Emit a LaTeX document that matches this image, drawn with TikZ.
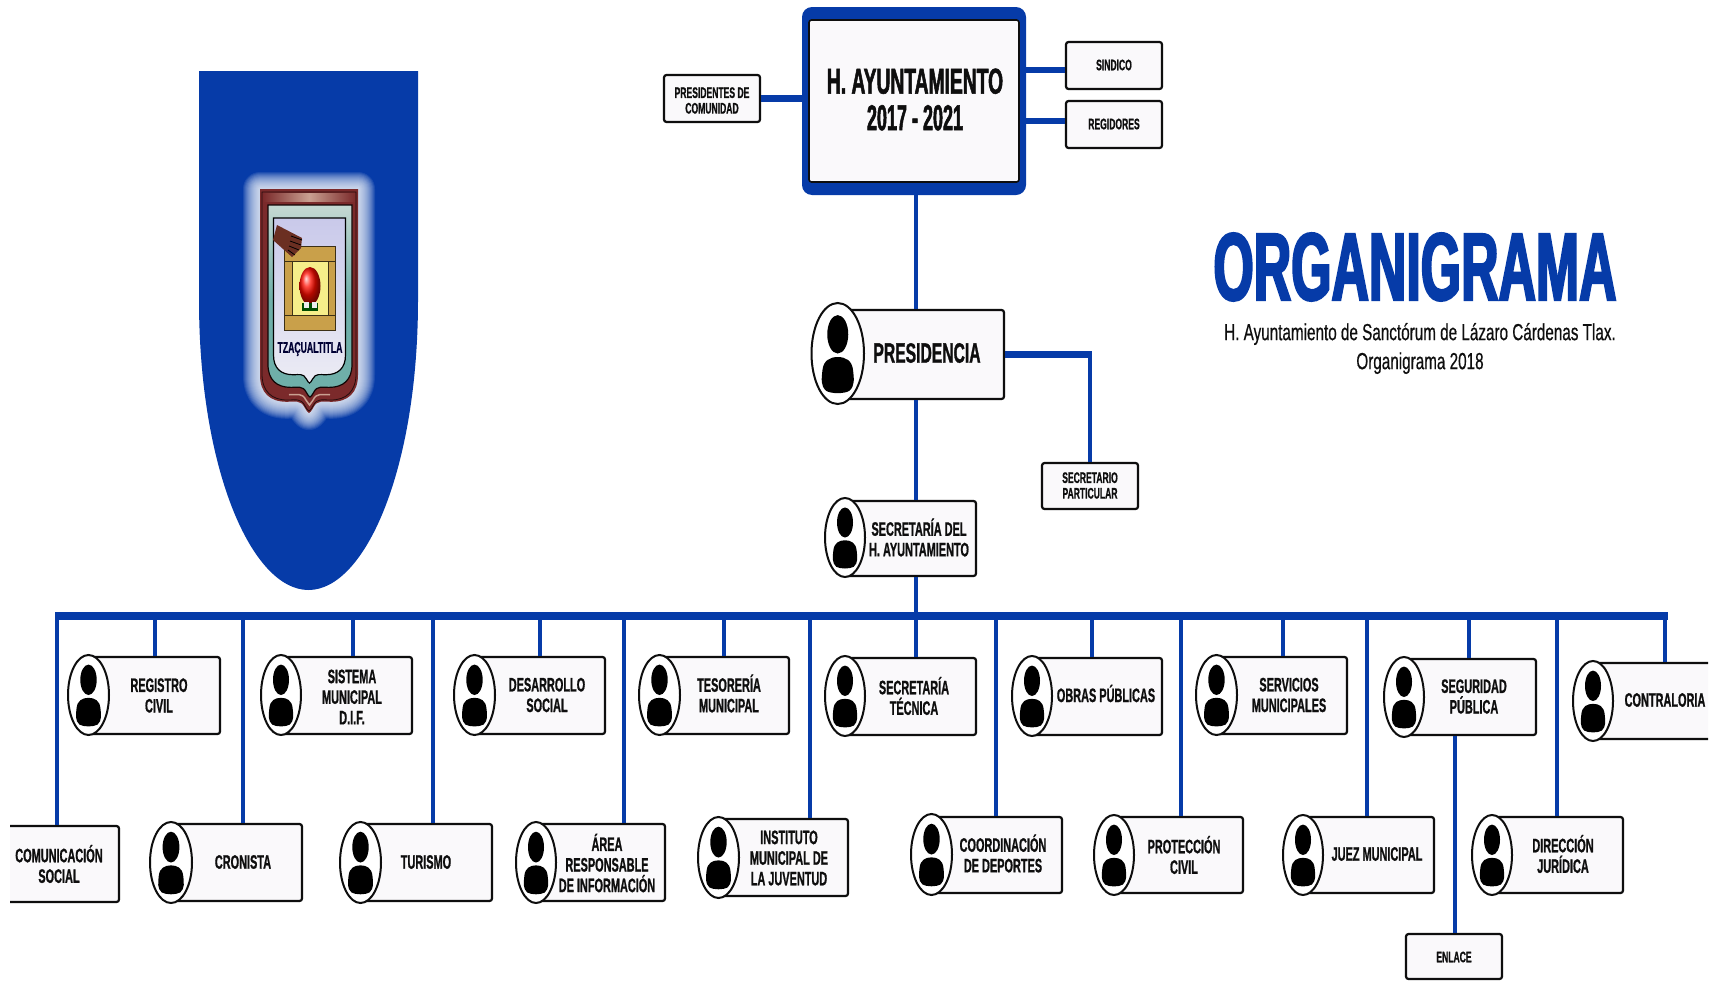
\documentclass[tikz,border=0pt]{standalone}
\usepackage{fontspec}
\setmainfont{Liberation Sans}
\newfontfamily\nar[FakeStretch=0.56,FakeBold=0.8]{Liberation Sans}
\newfontfamily\narh[FakeStretch=0.535,FakeBold=1.4]{Liberation Sans}
\newfontfamily\narn[FakeStretch=0.5,FakeBold=1.4]{Liberation Sans}
\newfontfamily\narp[FakeStretch=0.56,FakeBold=1.0]{Liberation Sans}
\newfontfamily\titf[FakeStretch=0.54,FakeBold=2.2]{Liberation Sans}
\newfontfamily\subt[FakeStretch=0.655,FakeBold=0.5]{Liberation Sans}
\usetikzlibrary{shapes.geometric}
\definecolor{azul}{HTML}{063BA8}
\definecolor{caja}{HTML}{FAF9FB}
\definecolor{ink}{HTML}{0E0E0E}
\definecolor{granate}{HTML}{7B2A2B}
\definecolor{rosado}{HTML}{C9A091}
\definecolor{verdeazul}{HTML}{6FAFA9}
\definecolor{verdeclaro}{HTML}{C5D8D2}
\definecolor{lila}{HTML}{C9C9EA}
\definecolor{lilaclaro}{HTML}{ECECF4}
\definecolor{oro}{HTML}{C9A04A}
\definecolor{amarillo}{HTML}{F6EE8A}
\definecolor{mano}{HTML}{6B2F22}
\tikzset{
  link/.style={draw=azul,line width=4.5pt},
  thicklink/.style={draw=azul,line width=6.5pt},
  cajon/.style={rectangle,draw=ink,line width=2.2pt,fill=caja,rounded corners=2.5pt,inner sep=0pt},
  ovalo/.style={ellipse,draw=ink,line width=2pt,fill=white,inner sep=0pt},
  lbl/.style={align=center,text=ink,inner sep=0pt,font=\nar\bfseries\fontsize{19.5}{20.6}\selectfont},
  lblsm/.style={align=center,text=ink,inner sep=0pt,font=\nar\bfseries\fontsize{15.3}{15.6}\selectfont}
}
% plain box: name, x1, x2, y1, y2
\newcommand{\caja}[5]{%
  \pgfmathsetmacro{\cw}{#3-#2}\pgfmathsetmacro{\ch}{#5-#4}%
  \pgfmathsetmacro{\cx}{(#2+#3)/2}\pgfmathsetmacro{\cy}{(#4+#5)/2}%
  \node[cajon,minimum width=\cw pt,minimum height=\ch pt] (#1) at (\cx,\cy) {};}
% portrait box: name, ellipse x1, x2, y1, y2, box right, box y1, y2
\newcommand{\retrato}[8]{%
  \pgfmathsetmacro{\ew}{#3-#2}\pgfmathsetmacro{\eh}{#5-#4}%
  \pgfmathsetmacro{\ex}{(#2+#3)/2}\pgfmathsetmacro{\ey}{(#4+#5)/2}%
  \caja{#1}{\ex}{#6}{#7}{#8}%
  \node[ovalo,minimum width=\ew pt,minimum height=\eh pt] (#1-o) at (\ex,\ey) {};%
  \begin{scope}[shift={(#1-o.center)},x=\ew pt,y=-\eh pt]
    \fill[black] (0,-.19) ellipse [x radius=.2,y radius=.19];
    \fill[black] (0,.035) .. controls (.15,.035) and (.27,.07) .. (.29,.16)
      .. controls (.31,.25) and (.33,.32) .. (.22,.37)
      .. controls (.12,.4) and (-.12,.4) .. (-.22,.37)
      .. controls (-.33,.32) and (-.31,.25) .. (-.29,.16)
      .. controls (-.27,.07) and (-.15,.035) .. (0,.035) -- cycle;
  \end{scope}}
\newcommand{\tap}[2]{\draw[link] (#2,0 |- bus) -- (#2,0 |- #1.north);}
\newcommand{\escudo}{(-1,0) -- (1,0) -- (1,.83) .. controls (1,.91) and (.8,.95) .. (.45,.95)
  .. controls (.3,.95) and (.17,.94) .. (.09,.975) .. controls (.05,.99) and (.02,1) .. (0,1) .. controls (-.02,1) and (-.05,.99) .. (-.09,.975) .. controls (-.17,.94) and (-.3,.95) .. (-.45,.95)
  .. controls (-.8,.95) and (-1,.91) .. (-1,.83) -- cycle}
\begin{document}
\begin{tikzpicture}[x=1pt,y=-1pt]
\useasboundingbox (0,0) rectangle (1713,980);
\fill[white] (0,0) rectangle (1713,980);

% banner
\fill[azul] (199,71) -- (418,71) -- (418,300) .. controls (418,470) and (365,590) .. (308.5,590)
  .. controls (252,590) and (199,470) .. (199,300) -- cycle;
% emblem glow
\begin{scope}[shift={(309,189)},x=49pt,y=-224pt]
  \foreach \g in {34,32,30,28,26,24,22,20,18,16,14,12,10,8,6,4,2}{\draw[white,opacity=.09,line width=\g pt,line join=round] \escudo;}
  \fill[granate] \escudo;
\end{scope}
\shade[left color=granate,right color=granate,middle color=rosado] (263,193) rectangle (355,201);
\begin{scope}[shift={(309,192)},x=47pt,y=-219pt]
  \draw[black!70!granate,line width=.8pt] \escudo;
\end{scope}
\begin{scope}[shift={(309.5,200)},x=41pt,y=-205pt]
  \draw[rosado,line width=1.5pt] (-.5,.95) .. controls (-.3,.95) and (-.17,.94) .. (-.09,.975) -- (0,1) -- (.09,.975) .. controls (.17,.94) and (.3,.95) .. (.5,.95);
\end{scope}
\begin{scope}[shift={(310,205)},x=42pt,y=-192pt]
  \draw[black!85!granate,line width=1.2pt,top color=verdeclaro,bottom color=verdeazul,middle color=verdeazul] \escudo;
\end{scope}
\begin{scope}[shift={(309.5,218)},x=36pt,y=-165pt]
  \draw[black,line width=1.2pt,top color=lila,bottom color=lilaclaro] \escudo;
\end{scope}
% box in the emblem
\draw[black!70!oro,line width=.7pt,fill=oro] (284,246) rectangle (335,330);
\fill[amarillo] (292,261) rectangle (328,315);
\draw[black!70!oro,line width=.6pt] (284,261) -- (335,261) (284,315) -- (335,315) (292,261) -- (292,315) (328,261) -- (328,315);
\shade[ball color=red!90!orange] (310,286) ellipse [x radius=10.5,y radius=19];
\fill[black!70!green] (302,311) rectangle (318,303);
\fill[white!85!gray] (304,308) rectangle (309,302);
\fill[white!85!gray] (312,308) rectangle (317,302);
% hand
\fill[mano] (277,225) -- (302,238) -- (301,248) -- (292,257) -- (273,240) -- cycle;
\draw[black,line width=.8pt] (291,236) -- (302,240) (290,241) -- (301,245) (289,246) -- (299,250) (288,250) -- (295,255);
\node[inner sep=0pt,text=black!80!blue,font=\nar\bfseries\fontsize{15.5}{15}\selectfont] (lema) at (310,349) {TZAÇUALTITLA};

% top box
\node[rectangle,fill=azul,rounded corners=10pt,minimum width=224pt,minimum height=188pt,inner sep=0pt] (hbox) at (914,101) {};
\node[cajon,minimum width=210pt,minimum height=162pt,line width=1.6pt] (hin) at (914,101) {};
\node[align=center,text=ink,inner sep=0pt,font=\narh\bfseries\fontsize{36}{36.5}\selectfont] (htxt) at (915,99.5) {H. AYUNTAMIENTO\\{\narn\bfseries 2017 - 2021}};

\caja{pcom}{664}{760}{75}{122}
\node[lblsm] (pcom-t) at (712,100.5) {PRESIDENTES DE\\COMUNIDAD};
\caja{sind}{1066}{1162}{42}{89}
\node[lblsm] (sind-t) at (1114,65) {SINDICO};
\caja{regi}{1066}{1162}{101}{148}
\node[lblsm] (regi-t) at (1114,124) {REGIDORES};
\draw[thicklink] (pcom.east) -- (pcom.east -| hbox.west);
\draw[thicklink] (hbox.east |- 0,70) -- (sind.west |- 0,70);
\draw[thicklink] (hbox.east |- 0,121) -- (regi.west |- 0,121);

% presidencia
\retrato{pres}{811.5}{864}{303}{404}{1004}{310}{399}
\node[inner sep=0pt,text=ink,font=\narp\bfseries\fontsize{28}{28}\selectfont] (pres-t) at (927,353) {PRESIDENCIA};
\draw[link] (916,0 |- hbox.south) -- (916,0 |- pres.north);
\caja{secp}{1042}{1138}{463}{509}
\node[lblsm] (secp-t) at (1090,485.5) {SECRETARIO\\PARTICULAR};
\draw[thicklink] (pres.east) -- (pres.east -| secp.north) coordinate (codo);
\draw[link] ([yshift=3.25pt]codo) -- (secp.north);

% secretaria
\retrato{secr}{825}{865}{498}{577}{976}{501}{576}
\node[lbl] (secr-t) at (919,537.5) {SECRETARÍA DEL\\H. AYUNTAMIENTO};
\draw[link] (916,0 |- pres.south) -- (916,0 |- secr.north);

% bus
\node[rectangle,fill=azul,minimum width=1613pt,minimum height=8.5pt,inner sep=0pt] (bus) at (861.5,616) {};
\draw[link] (916,0 |- secr.south) -- (916,0 |- bus);

% clipped boxes
\begin{scope}
  \clip (10,0) rectangle (1713,980);
  \caja{comu}{0}{119}{826}{902}
\end{scope}
\node[lbl] (comu-t) at (59,864) {COMUNICACIÓN\\SOCIAL};

% upper row
\retrato{regc}{68}{109}{655}{735}{220}{657}{734}
\node[lbl] (regc-t) at (159,695.5) {REGISTRO\\CIVIL};
\retrato{dif}{261}{301}{655}{735}{412}{657}{734}
\node[lbl] (dif-t) at (352,697) {SISTEMA\\MUNICIPAL\\D.I.F.};
\retrato{desa}{454}{495}{655}{735}{605}{657}{734}
\node[lbl] (desa-t) at (547,695) {DESARROLLO\\SOCIAL};
\retrato{teso}{639}{680}{655}{735}{789}{657}{734}
\node[lbl] (teso-t) at (729,693.5) {TESORERÍA\\MUNICIPAL};
\retrato{tecn}{825}{865}{656}{736}{976}{658}{735}
\node[lbl] (tecn-t) at (914,696) {SECRETARÍA\\TÉCNICA};
\retrato{obra}{1012}{1052}{656}{736}{1162}{658}{735}
\node[lbl] (obra-t) at (1106,693.5) {OBRAS PÚBLICAS};
\retrato{serv}{1196}{1237}{655}{735}{1347}{657}{734}
\node[lbl] (serv-t) at (1289,695) {SERVICIOS\\MUNICIPALES};
\retrato{segu}{1384}{1424}{657}{737}{1536}{659}{735}
\node[lbl] (segu-t) at (1474,696.5) {SEGURIDAD\\PÚBLICA};
\begin{scope}
  \clip (0,0) rectangle (1708,980);
  \retrato{cont}{1573}{1613}{661}{741}{1760}{663}{739}
\end{scope}
\node[lbl] (cont-t) at (1665,700) {CONTRALORIA};

% lower row
\retrato{cron}{150}{192}{822}{903}{302}{824}{901}
\node[lbl] (cron-t) at (243,862) {CRONISTA};
\retrato{turi}{340}{381}{822}{903}{492}{824}{901}
\node[lbl] (turi-t) at (426,862) {TURISMO};
\retrato{area}{516}{556}{822}{903}{665}{824}{901}
\node[lbl] (area-t) at (607,863) {ÁREA\\RESPONSABLE\\DE INFORMACIÓN};
\retrato{inst}{698}{739}{817}{898}{848}{819}{896}
\node[lbl] (inst-t) at (789,858) {INSTITUTO\\MUNICIPAL DE\\LA JUVENTUD};
\retrato{depo}{911}{952}{814}{895}{1062}{817}{893}
\node[lbl] (depo-t) at (1003,853.5) {COORDINACIÓN\\DE DEPORTES};
\retrato{prot}{1094}{1134}{815}{895}{1243}{817}{893}
\node[lbl] (prot-t) at (1184,855) {PROTECCIÓN\\CIVIL};
\retrato{juez}{1283}{1323}{815}{895}{1434}{817}{893}
\node[lbl] (juez-t) at (1377,854) {JUEZ MUNICIPAL};
\retrato{dire}{1472}{1512}{815}{895}{1623}{817}{893}
\node[lbl] (dire-t) at (1563,854) {DIRECCIÓN\\JURÍDICA};
\caja{enla}{1406}{1502}{934}{979}
\node[lblsm] (enla-t) at (1454,957) {ENLACE};

% taps
\tap{regc}{155}\tap{dif}{353}\tap{desa}{540}\tap{teso}{724}\tap{tecn}{916}\tap{obra}{1092}\tap{serv}{1283}\tap{segu}{1469}\tap{cont}{1665}
\tap{comu}{57}\tap{cron}{243}\tap{turi}{433}\tap{area}{624}\tap{inst}{810}\tap{depo}{996}\tap{prot}{1181}\tap{juez}{1367}\tap{dire}{1557}
\draw[link] (1455,0 |- segu.south) -- (1455,0 |- enla.north);

% title
\node[inner sep=0pt,text=azul,font=\titf\bfseries\fontsize{96}{96}\selectfont] (tit) at (1415,267) {ORGANIGRAMA};
\node[align=center,inner sep=0pt,text=ink,font=\subt\fontsize{23.3}{29}\selectfont] (stit) at (1420,348.5) {H. Ayuntamiento de Sanctórum de Lázaro Cárdenas Tlax.\\Organigrama 2018};
\end{tikzpicture}
\end{document}
